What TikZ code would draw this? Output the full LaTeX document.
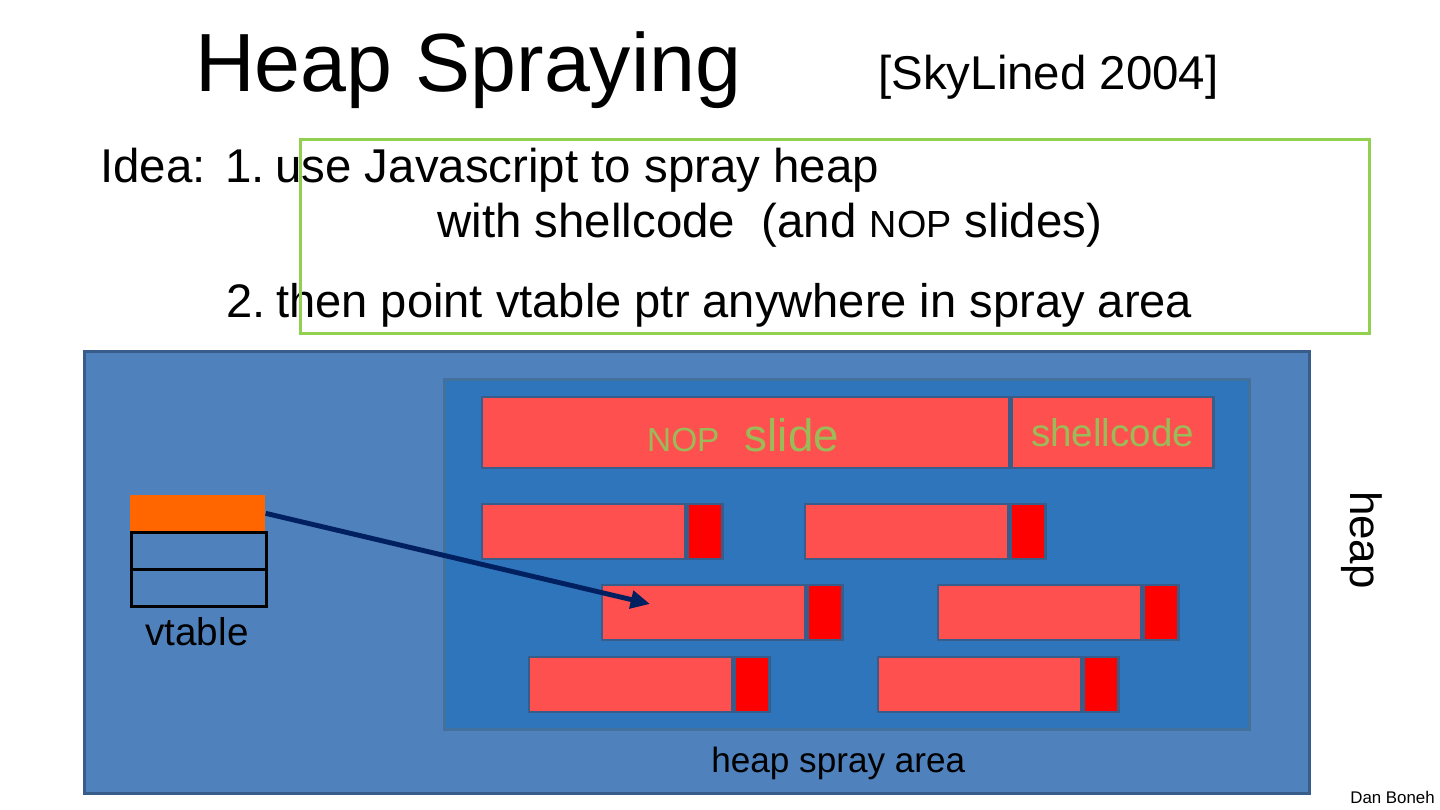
\documentclass[tikz,border=0pt]{standalone}
\usepackage{fontspec}
\setmainfont{Liberation Sans}
\usetikzlibrary{positioning, arrows.meta, calc}
\definecolor{cHeap}{RGB}{79,129,189}
\definecolor{cHeapEdge}{RGB}{56,93,138}
\definecolor{cSpray}{RGB}{47,117,187}
\definecolor{cSprayEdge}{RGB}{65,113,156}
\definecolor{cNop}{RGB}{255,80,80}
\definecolor{cShell}{RGB}{255,0,0}
\definecolor{cVt}{RGB}{255,102,0}
\definecolor{cPtr}{RGB}{0,32,96}
\definecolor{cLabel}{RGB}{155,187,89}
\definecolor{cIdea}{RGB}{146,208,80}
\newcommand{\px}{0.02cm}
\newcommand{\fsz}[1]{\fontsize{#1pt}{#1pt}\selectfont}
\tikzset{
    txt/.style={anchor=base west, inner sep=0pt, text=black},
    region/.style={
        rectangle, draw=cHeapEdge, line width=1.7pt,
        inner sep=0pt, anchor=north west,
    },
    chunk/.style={
        rectangle, fill=cNop, draw=cHeapEdge, line width=1.4pt,
        inner sep=0pt, anchor=north west,
        minimum width=203*\px, minimum height=55*\px,
    },
    chunkend/.style={
        rectangle, fill=cShell, draw=cHeapEdge, line width=1.4pt,
        inner sep=0pt, anchor=west,
        minimum width=35*\px, minimum height=55*\px,
    },
    vtcell/.style={
        rectangle, draw=black, line width=1.7pt, inner sep=0pt,
        anchor=north west, minimum width=135*\px, minimum height=37*\px,
    },
    ptr/.style={
        -{Triangle[length=11pt, width=10pt]}, line width=2.8pt, draw=cPtr
    },
}

\begin{document}
\begin{tikzpicture}[x=\px, y=-\px]
\useasboundingbox (0,0) rectangle (1440,810);

% ============================================================
%  Title and idea text
% ============================================================
\node[txt, font=\fsz{47}] (title) at (195,92) {Heap Spraying};
\node[txt, font=\fsz{27}] (cite) at (878,90) {[SkyLined 2004]};

\node[txt, font=\fsz{27}] (idea1) at (100,183)
    {Idea:\hspace{11pt}1.\hspace{6pt}use Javascript to spray heap};
\node[txt, font=\fsz{27}] (idea2) at (437,238)
    {with shellcode\ \ (and {\fsz{21.5}NOP} slides)};
\node[txt, font=\fsz{26.8}] (idea3) at (226,318)
    {2.\hspace{6pt}then point vtable ptr anywhere in spray area};

% highlight frame round the idea
\node[rectangle, draw=cIdea, line width=1.8pt, inner sep=0pt,
      anchor=north west, minimum width=1069*\px, minimum height=194*\px]
    (frame) at (299,138) {};

% ============================================================
%  Heap and spray area
% ============================================================
\node[region, fill=cHeap, minimum width=1225*\px, minimum height=442*\px]
    (heap) at (83,350) {};
\node[region, fill=cSpray, draw=cSprayEdge,
      minimum width=805*\px, minimum height=350*\px]
    (area) at (443,378) {};

\node[txt, font=\fsz{20}] (arealab) at (711,772) {heap spray area};
\node[font=\fsz{25}, inner sep=0pt, rotate=-90] (heaplab) at (1362,540) {heap};

% big block: NOP slide + shellcode
\node[chunk, minimum width=527*\px, minimum height=71*\px] (nop) at (481,396) {};
\node[chunk, anchor=west, minimum width=202*\px, minimum height=71*\px]
    (shell) at (nop.east) {};
\node[anchor=base, inner sep=0pt, text=cLabel, font=\fsz{26}]
    at (743,452) {{\fsz{19}NOP}\ \ slide};
\node[anchor=base, inner sep=0pt, text=cLabel, font=\fsz{22}]
    at (shell.center |- 0,447) {shellcode};

% sprayed copies (light part + shellcode end)
\foreach \n/\x/\y in {a/481/503, b/804/503, c/601/584,
                      d/937/584, e/528/656, f/877/656} {
    \node[chunk] (\n) at (\x,\y) {};
    \node[chunkend] (\n end) at (\n.east) {};
}

% ============================================================
%  vtable and pointer
% ============================================================
\node[rectangle, fill=cVt, inner sep=0pt, anchor=north west,
      minimum width=135*\px, minimum height=36*\px] (vt0) at (130,495) {};
\node[vtcell] (vt1) at (130,531) {};
\node[vtcell] (vt2) at (130,568) {};
\node[font=\fsz{22}, anchor=base, inner sep=0pt] (vtlab) at (197,645) {vtable};

\coordinate (hit) at (650,604);
\draw[ptr] (vt0.east) -- (hit);

\node[txt, font=\fsz{9.6}] (credit) at (1350,803) {Dan Boneh};

\end{tikzpicture}
\end{document}
